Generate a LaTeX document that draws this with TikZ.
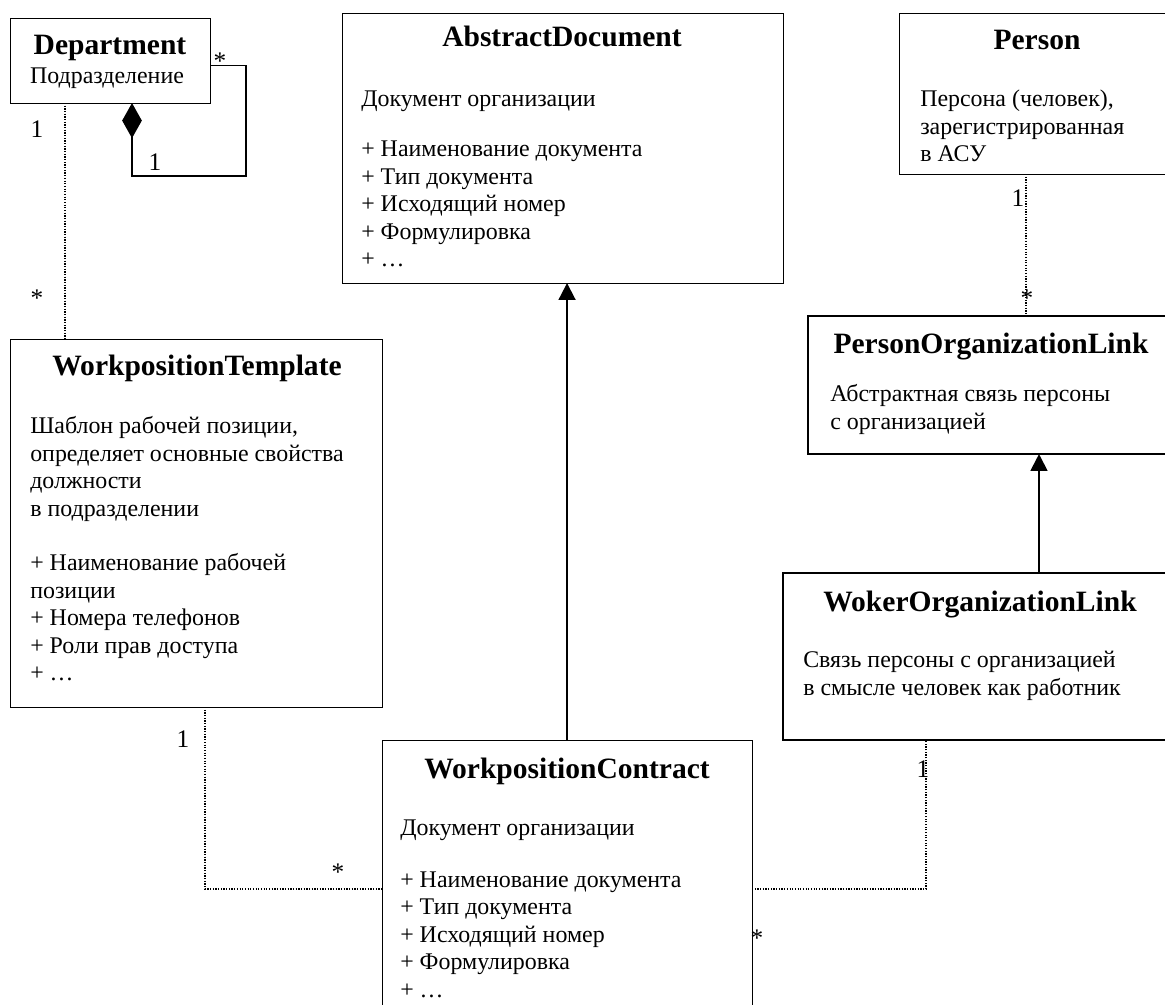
\documentclass[tikz,border=0pt]{standalone}
\usepackage{fontspec}
\setmainfont{Liberation Serif}
\usetikzlibrary{calc,arrows.meta}
\def\bodyfont{\fontsize{17}{19.6}\selectfont}
\def\titlefont{\fontsize{21}{25}\selectfont\bfseries}

\begin{document}
\begin{tikzpicture}[x=0.025cm, y=-0.025cm,
  umlbox/.style={draw, rectangle, inner sep=0pt, outer sep=0pt, anchor=north west, line width=0.7pt},
  linkbox/.style={umlbox, line width=1.4pt},
  classtitle/.style={anchor=base, inner sep=0pt, font=\titlefont},
  body/.style={anchor=north west, inner sep=0pt, align=left, font=\bodyfont},
  mult/.style={anchor=base, inner sep=0pt, font=\fontsize{18}{20}\selectfont},
  assoc/.style={densely dotted, line width=0.9pt},
  gen/.style={line width=1.4pt, -{Triangle[width=12pt,length=12pt]}},
  comp/.style={line width=1.4pt, {Diamond[width=14pt,length=25pt]}-}]
  \useasboundingbox (0,0) rectangle (1165,1005);
  %%%%% CLASSES %%%%%
  \node[umlbox, minimum width=5cm, minimum height=2.125cm] (dept) at (10,18) {};
  \node[classtitle] (dept-title) at ($(dept.north west)+(100,37)$) {Department};
  \node[anchor=base, inner sep=0pt, font=\bodyfont] (dept-text) at ($(dept.north west)+(97,65)$) {Подразделение};

  \node[umlbox, minimum width=11.025cm, minimum height=6.75cm] (ad) at (342,13) {};
  \node[classtitle] (ad-title) at ($(ad.north west)+(220,34)$) {AbstractDocument};
  \node[body] (ad-text) at ($(ad.north west)+(19,74)$) {\strut Документ организации\\[16pt]
    + Наименование документа\\ + Тип документа\\ + Исходящий номер\\ + Формулировка\\ + …};

  \node[umlbox, minimum width=7.5cm, minimum height=4.025cm] (person) at (899,13) {};
  \node[classtitle] (person-title) at ($(person.north west)+(138,37)$) {Person};
  \node[body] (person-text) at ($(person.north west)+(21,74)$) {\strut Персона (человек),\\ зарегистрированная\\ в АСУ};

  \node[linkbox, minimum width=11.25cm, minimum height=3.45cm] (pol) at (808,316) {};
  \node[classtitle] (pol-title) at ($(pol.north west)+(183,37)$) {PersonOrganizationLink};
  \node[body] (pol-text) at ($(pol.north west)+(22,66)$) {\strut Абстрактная связь персоны\\ с организацией};

  \node[umlbox, minimum width=9.3cm, minimum height=9.2cm] (wt) at (10,339) {};
  \node[classtitle] (wt-title) at ($(wt.north west)+(187,36)$) {WorkpositionTemplate};
  \node[body] (wt-text) at ($(wt.north west)+(20,75)$) {\strut Шаблон рабочей позиции,\\ определяет основные свойства\\ должности\\ в подразделении\\[19pt]
    + Наименование рабочей\\ позиции\\ + Номера телефонов\\ + Роли прав доступа\\ + …};

  \node[linkbox, minimum width=12.8cm, minimum height=4.175cm] (wol) at (783,573) {};
  \node[classtitle] (wol-title) at ($(wol.north west)+(197,38)$) {WokerOrganizationLink};
  \node[body] (wol-text) at ($(wol.north west)+(20,75)$) {\strut Связь персоны с организацией\\ в смысле человек как работник};

  \node[umlbox, minimum width=9.25cm, minimum height=7.5cm] (wc) at (382,740) {};
  \node[classtitle] (wc-title) at ($(wc.north west)+(185,38)$) {WorkpositionContract};
  \node[body] (wc-text) at ($(wc.north west)+(18,76)$) {\strut Документ организации\\[17pt]
    + Наименование документа\\ + Тип документа\\ + Исходящий номер\\ + Формулировка\\ + …};

  %%%%% LINKS %%%%%
  \draw[comp] ($(dept.south west)+(122,0)$) |- ++(114,73) |- ($(dept.east)+(0,5)$);
  \draw[assoc] ($(dept.south west)+(55,0)$) -- ($(wt.north west)+(55,0)$);
  \draw[assoc] ($(person.south west)+(127,0)$) coordinate (pp) -- (pp |- pol.north);
  \draw[gen] (wc.north) -- (wc.north |- ad.south);
  \draw[gen] ($(wol.north west)+(256,0)$) coordinate (wup) -- (wup |- pol.south);
  \draw[assoc] ($(wt.south west)+(195,0)$) |- ($(wc.north west)+(0,149)$);
  \draw[assoc] ($(wc.north east)+(0,149)$) -| ($(wol.south west)+(143,0)$);

  %%%%% MULTIPLICITIES %%%%%
  \node[mult] (m-dept-wt) at (37,138) {1};
  \node[mult] (m-wt-dept) at (37,306) {*};
  \node[mult] (m-dept-sub) at (220,70) {*};
  \node[mult] (m-dept-own) at (155,170) {1};
  \node[mult] (m-person) at (1018,206) {1};
  \node[mult] (m-pol) at (1027,306) {*};
  \node[mult] (m-wt-wc) at (183,747) {1};
  \node[mult] (m-wc-wt) at (338,880) {*};
  \node[mult] (m-wol) at (923,777) {1};
  \node[mult] (m-wc-wol) at (757,946) {*};
\end{tikzpicture}
\end{document}
